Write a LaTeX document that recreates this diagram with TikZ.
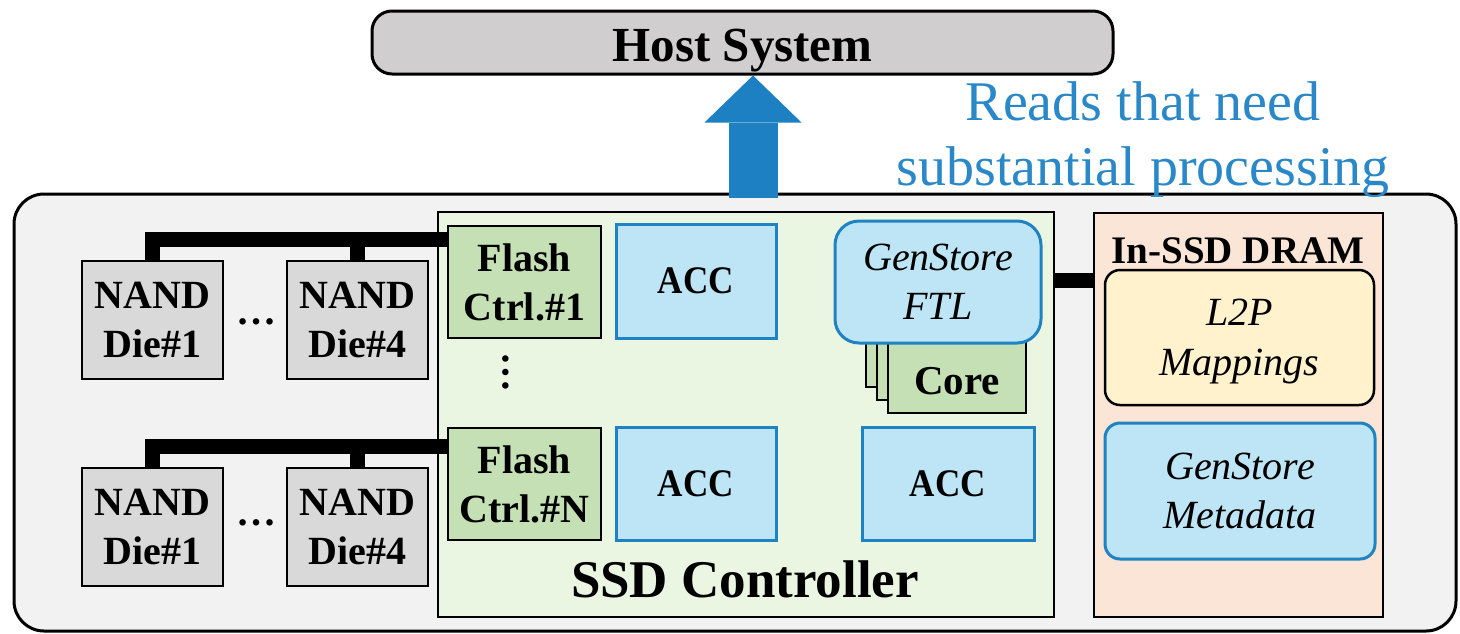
\documentclass[tikz,border=0pt]{standalone}
\usepackage{fontspec}
\setmainfont{Liberation Serif}
\newfontfamily\condserif[FakeStretch=0.9]{Liberation Serif}
\usetikzlibrary{arrows.meta,calc}
\definecolor{hostgray}{HTML}{D0CECE}
\definecolor{outergray}{HTML}{F2F2F2}
\definecolor{diegray}{HTML}{D9D9D9}
\definecolor{ctrlgreen}{HTML}{EAF6E2}
\definecolor{fcgreen}{HTML}{C5E0B4}
\definecolor{accblue}{HTML}{BDE5F5}
\definecolor{accborder}{HTML}{1F82C3}
\definecolor{dramfill}{HTML}{FBE5D6}
\definecolor{l2pfill}{HTML}{FFF2CC}
\definecolor{readsblue}{HTML}{2A88C8}
\definecolor{arrowblue}{HTML}{1C80C2}
\tikzset{
  bx/.style={draw=black, line width=2.5pt, inner sep=0pt, align=center, text depth=0pt},
  diebox/.style={bx, fill=diegray, minimum width=141pt, minimum height=118pt, font=\bfseries\fontsize{40}{49}\selectfont},
  fcbox/.style={bx, fill=fcgreen, minimum width=153pt, minimum height=112pt, font=\bfseries\fontsize{40}{49}\selectfont},
  accbox/.style={bx, draw=accborder, line width=3pt, fill=accblue, font=\condserif\bfseries\fontsize{39}{44}\selectfont},
  corebox/.style={bx, fill=fcgreen, minimum width=138pt, minimum height=83pt},
  roundblue/.style={bx, draw=accborder, line width=3pt, fill=accblue, rounded corners=15pt, font=\itshape\fontsize{40}{49}\selectfont},
  bus/.style={line width=15pt, line join=miter},
  dotsnode/.style={font=\bfseries\fontsize{40}{40}\selectfont, inner sep=0pt},
  titletext/.style={font=\bfseries, inner sep=0pt, anchor=base}
}
\begin{document}
\begin{tikzpicture}[x=1pt,y=-1pt]
\useasboundingbox (0,0) rectangle (1460,633);
% host
\node[bx, line width=3pt, fill=hostgray, rounded corners=20pt, minimum width=741pt, minimum height=63pt, text height=38pt,
      font=\bfseries\fontsize{49}{56}\selectfont] (host) at (742.5,42.5) {Host System};
% outer SSD box
\node[bx, line width=3pt, fill=outergray, rounded corners=30pt, minimum width=1442pt, minimum height=437pt] (ssd) at (735,412.5) {};
% controller
\node[bx, fill=ctrlgreen, minimum width=616pt, minimum height=405pt] (ctrl) at (746,414.5) {};
\node[titletext, font=\bfseries\fontsize{53}{60}\selectfont] (ctrllabel) at (745,597) {SSD Controller};
% dies
\node[diebox] (d1a) at (152.5,320) {NAND\\Die\#1};
\node[diebox] (d4a) at (357.5,320) {NAND\\Die\#4};
\node[diebox] (d1b) at (152.5,527) {NAND\\Die\#1};
\node[diebox] (d4b) at (357.5,527) {NAND\\Die\#4};
\node[dotsnode] (hdotsa) at (256,322) {…};
\node[dotsnode] (hdotsb) at (256,523) {…};
% flash controllers
\node[fcbox] (fc1) at (524.5,282) {Flash\\Ctrl.\#1};
\node[fcbox] (fcN) at (524.5,484) {Flash\\Ctrl.\#N};
\node[dotsnode, rotate=90] (vdots) at (506,372) {…};
% buses
\coordinate (busA) at ($(fc1.north west)+(0,14.5)$);
\coordinate (busB) at ($(fcN.north west)+(0,19.5)$);
\draw[bus] (d1a.north) |- (busA);
\draw[bus] (d4a.north) -- (d4a.north |- busA);
\draw[bus] (d1b.north) |- (busB);
\draw[bus] (d4b.north) -- (d4b.north |- busB);
% accelerators
\node[accbox, minimum width=160pt, minimum height=114pt] (acc1) at (696,281) {ACC};
\node[accbox, minimum width=160pt, minimum height=113pt] (acc2) at (696,483.5) {ACC};
\node[accbox, minimum width=172pt, minimum height=113pt] (acc3) at (948,483.5) {ACC};
% cores
\node[corebox] (coreb1) at (935,345.5) {};
\node[corebox] (coreb2) at (946,358.5) {};
\node[corebox, text height=45pt, font=\bfseries\fontsize{41}{49}\selectfont] (core) at (957,371.5) {Core};
% FTL
\node[roundblue, rounded corners=24pt, minimum width=206pt, minimum height=122pt] (ftl) at (938,282) {GenStore\\FTL};
% DRAM
\node[bx, fill=dramfill, minimum width=289pt, minimum height=404pt] (dram) at (1238.5,415) {};
\node[titletext, font=\bfseries\fontsize{39}{46}\selectfont] (dramlabel) at (1238,263) {In-SSD DRAM};
\node[bx, fill=l2pfill, rounded corners=15pt, minimum width=269pt, minimum height=135pt,
      font=\itshape\fontsize{40}{50}\selectfont] (l2p) at (1239.5,337.5) {L2P\\Mappings};
\node[roundblue, minimum width=270pt, minimum height=136pt] (meta) at (1240,491) {GenStore\\Metadata};
\coordinate (busC) at ($(dram.north west)+(0,69)$);
\draw[bus] (ctrl.east |- busC) -- (busC);
% arrow to host
\coordinate (arrowfoot) at (753,198);
\draw[arrowblue, line width=49pt, -{Triangle[width=97pt,length=47pt,line width=0pt]}] (arrowfoot) -- (arrowfoot |- host.south);
% label
\node[inner sep=0pt, align=center, text depth=0pt, text=readsblue, font=\fontsize{56}{65}\selectfont] (reads) at (1143,134) {Reads that need\\substantial processing};
\end{tikzpicture}
\end{document}
